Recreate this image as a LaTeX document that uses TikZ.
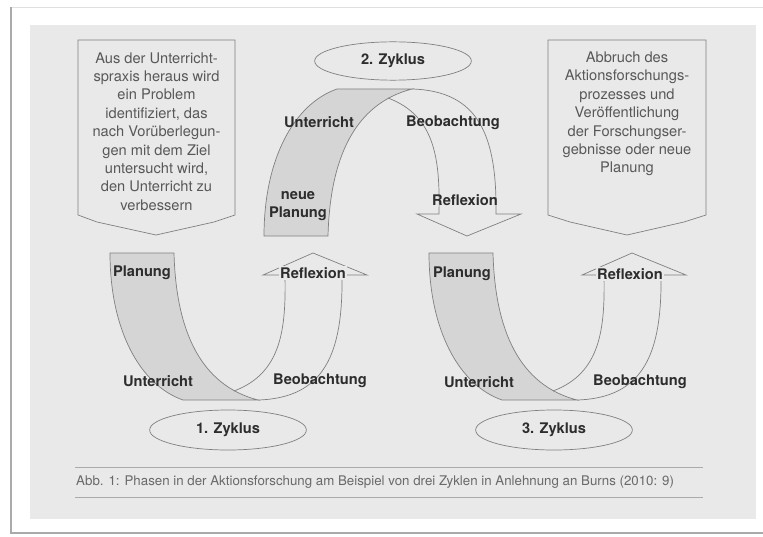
\documentclass[tikz,border=0pt]{standalone}
\usepackage{fontspec}
\setmainfont{TeX Gyre Heros}
\usetikzlibrary{shapes.geometric}
\definecolor{panel}{RGB}{233,233,233}
\definecolor{bandgray}{RGB}{213,213,213}
\definecolor{linegray}{RGB}{128,128,128}
\definecolor{textgray}{RGB}{88,88,88}
\definecolor{phasegray}{RGB}{45,45,45}
\definecolor{captiongray}{RGB}{105,105,105}
\definecolor{framegray}{RGB}{170,170,170}

\begin{document}
\begin{tikzpicture}[x=0.03cm, y=-0.03cm,
	font=\fontsize{12.5}{15.7}\selectfont,
	kontur/.style={draw=linegray, line width=0.6pt},
	bandfill/.style={kontur, fill=bandgray},
	phase/.style={font=\fontsize{12.5}{15.7}\selectfont\bfseries, text=phasegray, inner sep=1pt},
	boxtext/.style={align=center, text=textgray},
	zyklus/.style={kontur, ellipse, minimum width=4.7cm, minimum height=1.2cm,
		font=\fontsize{12.5}{15.7}\selectfont\bfseries, text=phasegray},
	rule/.style={draw=framegray, line width=0.6pt}]
	\useasboundingbox (0,0) rectangle (763,536);

	% Background, frame and panel
	\fill[white] (0,0) rectangle (763,536);
	\draw[draw=black!12, line width=0.8pt] (11,7) -- (763,7);
	\draw[draw=framegray, line width=1.4pt] (11,7) -- (11,533) -- (763,533);
	\fill[panel] (30,25) rectangle (756,519);

	% Ribbons of the three cycles (the second one upside down)
	\foreach \dx/\dy/\sy in {110/253/1, 429/253/1, 264/236/-1} {
		\begin{scope}[shift={(\dx,\dy)}, yscale=\sy]
			\filldraw[bandfill] (0,0) -- (64,0) .. controls (66,77) and (90,132) .. (148,147)
				-- (73,147) .. controls (30,132) and (0,77) .. (0,0) -- cycle;
			\draw[kontur] (124,138) .. controls (172,120) and (176,75) .. (175,22)
				-- (153,22) -- (203,0) -- (257,22) -- (232,22)
				.. controls (233,100) and (215,145) .. (148,147);
		\end{scope}
	}

	% Text boxes with pointed bottom
	\draw[kontur] (78,40) -- (235,40) -- (235,215) -- (214,222) -- (156,235)
		-- (97,222) -- (78,215) -- cycle;
	\draw[kontur] (548,40) -- (706,40) -- (706,215) -- (684,222) -- (627,235)
		-- (570,222) -- (548,215) -- cycle;
	\node (problem)		[boxtext] at (156.5,131.5)
		{Aus der Unterricht-\\spraxis heraus wird\\ein Problem\\identifiziert, das\\nach Vorüberlegun-\\gen mit dem Ziel\\untersucht wird,\\den Unterricht zu\\verbessern};
	\node (abbruch)		[boxtext] at (627,114)
		{Abbruch des\\Aktionsforschungs-\\prozesses und\\Veröffentlichung\\der Forschungser-\\gebnisse oder neue\\Planung};

	% Cycle names
	\node (zyklus1)		[zyklus] at (228,430) {1. Zyklus};
	\node (zyklus2)		[zyklus, minimum height=1.15cm] at (393,61) {2. Zyklus};
	\node (zyklus3)		[zyklus] at (554,430) {3. Zyklus};

	% Phases of cycle 1
	\node (planung1)		[phase] at (142,273) {Planung};
	\node (reflexion1)	[phase, fill=panel] at (313,273) {Reflexion};
	\node (unterricht1)	[phase] at (158,381) {Unterricht};
	\node (beobachtung1)	[phase] at (320,381) {Beobachtung};

	% Phases of cycle 2
	\node (planung2)		[phase, align=center] at (298,206) {neue\\Planung};
	\node (unterricht2)	[phase] at (319,122) {Unterricht};
	\node (beobachtung2)	[phase] at (453,123) {Beobachtung};
	\node (reflexion2)	[phase] at (465,200) {Reflexion};

	% Phases of cycle 3
	\node (planung3)		[phase] at (462,274) {Planung};
	\node (reflexion3)	[phase, fill=panel] at (630,274) {Reflexion};
	\node (unterricht3)	[phase] at (479,382) {Unterricht};
	\node (beobachtung3)	[phase] at (640,382) {Beobachtung};

	% Caption between two rules
	\draw[rule] (75,467) -- (703,467);
	\draw[rule] (75,497) -- (703,497);
	\node (caption)		[anchor=west, inner sep=0pt, text=captiongray,
		font=\fontsize{11.35}{13}\selectfont] at (76,482)
		{Abb. 1: Phasen in der Aktionsforschung am Beispiel von drei Zyklen in Anlehnung an Burns (2010: 9)};
\end{tikzpicture}
\end{document}
